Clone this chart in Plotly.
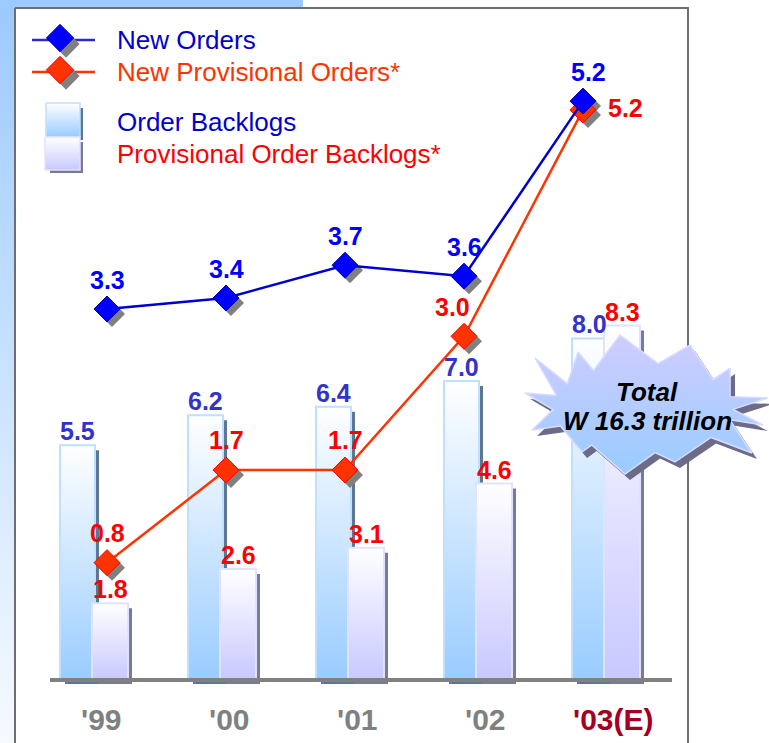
import math
import plotly.graph_objects as go

W, H = 769, 743
FONT = "Liberation Sans, Arial, sans-serif"

# ---- data -------------------------------------------------------------
years = ["'99", "'00", "'01", "'02", "'03(E)"]
new_orders = [3.3, 3.4, 3.7, 3.6, 5.2]
new_provisional_orders = [0.8, 1.7, 1.7, 3.0, 5.2]
order_backlogs = [5.5, 6.2, 6.4, 7.0, 8.0]
provisional_backlogs = [1.8, 2.6, 3.1, 4.6, 8.3]
year_colors = ["#808080", "#808080", "#808080", "#808080", "#a50021"]
legend_labels = ["New Orders", "New Provisional Orders*",
                 "Order Backlogs", "Provisional Order Backlogs*"]
callout_lines = ["Total", "W 16.3 trillion"]

# ---- scales: pixel of value 0 and pixels per unit ----------------------
BAR_X0, BAR_DX = 95, 128
BAR_Y0, BAR_DY = 680, 42.7
LINE_X0, LINE_DX = 107, 119
BLUE_Y0, BLUE_DY = 670, 109.4
RED_Y0, RED_DY = 645, 102.9
SH = 5  # drop shadow offset of the diamond markers (px)


def x_range(x0, dx):
    return [-x0 / dx, (W - x0) / dx]


def y_range(y0, dy):
    return [(y0 - H) / dy, y0 / dy]


fig = go.Figure()


def poly(xs, ys, xa, ya, **kw):
    fig.add_trace(go.Scatter(x=xs, y=ys, mode="lines", fill="toself",
                             hoverinfo="skip", showlegend=False,
                             xaxis=xa, yaxis=ya, **kw))


def rect_px(x0, y0, x1, y1, **kw):
    poly([x0, x1, x1, x0, x0], [y0, y0, y1, y1, y0], "x", "y", **kw)


# ---- background panel and frame (pixel axes) ---------------------------
rect_px(0, 0, 303, H, line_width=0, fillcolor="#9ccaff",
        fillgradient=dict(type="vertical", start=H, stop=0,
                          colorscale=[[0, "#f6faff"], [1, "#9ccaff"]]))
rect_px(15, 8, 688, H + 20, fillcolor="white",
        line=dict(color="#6e6e6e", width=2))

# legend: line series
for y, lc, mc, ec in [(40, "#2a2ad0", "#0000ff", "#0000aa"),
                      (72, "#ff3300", "#ff3300", "#ff0000")]:
    fig.add_trace(go.Scatter(x=[32, 95], y=[y, y], mode="lines",
                             line=dict(color=lc, width=2.5), hoverinfo="skip",
                             showlegend=False, xaxis="x", yaxis="y"))
    fig.add_trace(go.Scatter(x=[66], y=[y + 4], mode="markers",
                             marker=dict(symbol="diamond", size=21, color="#808080"),
                             hoverinfo="skip", showlegend=False, xaxis="x", yaxis="y"))
    fig.add_trace(go.Scatter(x=[60], y=[y - 2], mode="markers",
                             marker=dict(symbol="diamond", size=21, color=mc,
                                         line=dict(color=ec, width=1)),
                             hoverinfo="skip", showlegend=False, xaxis="x", yaxis="y"))

# legend: bar icon
rect_px(50, 108, 83, 140, line_width=0, fillcolor="#5a7896")
rect_px(50, 142, 83, 173, line_width=0, fillcolor="#7a7a98")
rect_px(46, 103, 80, 137, fillcolor="#99ccff", line=dict(color="#bfe0ff", width=1.5),
        fillgradient=dict(type="vertical", start=137, stop=103,
                          colorscale=[[0, "#99ccff"], [1, "#ffffff"]]))
rect_px(45, 137, 80, 170, fillcolor="#c8c8ff", line=dict(color="#e2e2ff", width=1.5),
        fillgradient=dict(type="vertical", start=170, stop=137,
                          colorscale=[[0, "#c8c8ff"], [1, "#ffffff"]]))

# ---- bars (x2 / y2) ------------------------------------------------------
def ux(px):
    return px / BAR_DX


def uy(px):
    return px / BAR_DY


BLUE_BAR = (-35, 0)
PURPLE_BAR = (-3, 33)
bar_styles = [
    (order_backlogs, BLUE_BAR, "#99ccff", "#bfe0ff", "#5a7896"),
    (provisional_backlogs, PURPLE_BAR, "#c8c8ff", "#e2e2ff", "#7a7a98"),
]
for i in range(len(years)):
    for vals, (l, r), base, edge, shade in bar_styles:
        v = vals[i]
        x0, x1 = i + ux(l), i + ux(r)
        sx0, sx1 = x0 + ux(5), x1 + ux(4)
        poly([sx0, sx1, sx1, sx0, sx0], [-uy(4), -uy(4), v - uy(5), v - uy(5), -uy(4)],
             "x2", "y2", line_width=0, fillcolor=shade)
        poly([x0, x1, x1, x0, x0], [0, 0, v, v, 0], "x2", "y2",
             fillcolor=base, line=dict(color=edge, width=2),
             fillgradient=dict(type="vertical", start=0, stop=v,
                               colorscale=[[0, base], [1, "#ffffff"]]))

# ---- starburst callout (drawn over the bars) ---------------------------
STAR_C = (643, 408)
star_tips = [(768, 398), (730, 368), (690, 345), (620, 335), (578, 352),
             (535, 358), (525, 393), (532, 430), (582, 452), (625, 474),
             (675, 462), (752, 453), (763, 425)]
tip_ang = [math.atan2(STAR_C[1] - ty, tx - STAR_C[0]) for tx, ty in star_tips]
star_px = []
n = len(star_tips)
for k in range(n):
    star_px.append(star_tips[k])
    a0, a1 = tip_ang[k], tip_ang[(k + 1) % n]
    if a1 < a0:
        a1 += 2 * math.pi
    am = (a0 + a1) / 2
    star_px.append((STAR_C[0] + 90 * math.cos(am), STAR_C[1] - 45 * math.sin(am)))
star_px.append(star_px[0])


def star_trace(dx, dy, **kw):
    xs = [(px + dx - BAR_X0) / BAR_DX for px, _ in star_px]
    ys = [(BAR_Y0 - py - dy) / BAR_DY for _, py in star_px]
    poly(xs, ys, "x2", "y2", **kw)


star_trace(5, 6, line_width=0, fillcolor="#6c6c88")
star_trace(0, 0, fillcolor="#b0c8ff", line=dict(color="#d8dcff", width=1.5),
           fillgradient=dict(type="vertical",
                             start=(BAR_Y0 - 475) / BAR_DY,
                             stop=(BAR_Y0 - 335) / BAR_DY,
                             colorscale=[[0, "#99ccff"], [1, "#d0ccff"]]))

# ---- lines: shadows (x4) then series (x5) -------------------------------
series = [
    ("y4", "y6", new_provisional_orders, "#ff3300", "#ff3300", "#ff0000"),
    ("y5", "y7", new_orders, "#0000cc", "#0000ff", "#0000aa"),
]
xs_idx = list(range(len(years)))
for ysh, _, vals, _, _, _ in series:
    fig.add_trace(go.Scatter(x=xs_idx, y=vals, mode="markers",
                             marker=dict(symbol="diamond", size=20, color="#808080"),
                             hoverinfo="skip", showlegend=False, xaxis="x4", yaxis=ysh))
for _, ya, vals, lc, mc, ec in series:
    fig.add_trace(go.Scatter(x=xs_idx, y=vals, mode="lines+markers",
                             line=dict(color=lc, width=2.5),
                             marker=dict(symbol="diamond", size=20, color=mc,
                                         line=dict(color=ec, width=1)),
                             hoverinfo="skip", showlegend=False, xaxis="x5", yaxis=ya))

# ---- annotations ---------------------------------------------------------
ann = []


def label(text, x, y, xref, yref, color, size, **kw):
    d = dict(text=text, x=x, y=y, xref=xref, yref=yref, showarrow=False,
             xanchor="center", font=dict(family=FONT, size=size, color=color))
    d.update(kw)
    ann.append(d)


def bold(size, color, **extra):
    return dict(family=FONT, size=size, color=color, weight="bold", **extra)


# legend text
for (txt, y, col) in zip(legend_labels, [40, 72, 122, 154],
                         ["#0000cc", "#ff3300", "#0000cc", "#ff0000"]):
    label(txt, 115, y, "x", "y", col, 26, xanchor="left", yanchor="middle")

# bar value labels
for i in range(len(years)):
    label(f"{order_backlogs[i]:.1f}", i + ux(sum(BLUE_BAR) / 2), order_backlogs[i],
          "x2", "y2", "#3333cc", 25, yanchor="bottom", yshift=-2,
          font=bold(25, "#3333cc"))
    label(f"{provisional_backlogs[i]:.1f}", i + ux(sum(PURPLE_BAR) / 2), provisional_backlogs[i],
          "x2", "y2", "#ff0000", 25, yanchor="bottom", yshift=-2,
          font=bold(25, "#ff0000"))

# line value labels
for i in range(len(years)):
    label(f"{new_orders[i]:.1f}", i, new_orders[i], "x5", "y7", "#0000ff", 25,
          yanchor="middle", yshift=29, xshift=5 if i == 4 else 0,
          font=bold(25, "#0000ff"))
    if i == 4:
        kw = dict(xshift=42, yshift=2)
    elif i == 3:
        kw = dict(xshift=-12, yshift=29)
    else:
        kw = dict(yshift=30)
    label(f"{new_provisional_orders[i]:.1f}", i, new_provisional_orders[i], "x5", "y6",
          "#ff0000", 25, yanchor="middle", font=bold(25, "#ff0000"), **kw)

# category labels
for i, (yr, col) in enumerate(zip(years, year_colors)):
    label(yr, i, 0, "x2", "y2", col, 30, yanchor="middle", yshift=-39, xshift=6,
          font=bold(30, col))

# callout text
for txt, py in zip(callout_lines, [392, 421]):
    label(txt, 647 / W, 1 - py / H, "paper", "paper", "black", 26, yanchor="middle",
          font=bold(26, "black", style="italic"))

# ---- layout ---------------------------------------------------------------
hidden = dict(visible=False, showgrid=False, zeroline=False, fixedrange=True)
fig.update_layout(
    width=W, height=H,
    margin=dict(l=0, r=0, t=0, b=0),
    paper_bgcolor="white", plot_bgcolor="rgba(0,0,0,0)",
    showlegend=False,
    annotations=ann,
    shapes=[dict(type="line", xref="x2", yref="y2",
                 x0=(50 - BAR_X0) / BAR_DX, x1=(672 - BAR_X0) / BAR_DX, y0=0, y1=0,
                 line=dict(color="#808080", width=4), layer="above")],
    xaxis=dict(range=[0, W], domain=[0, 1], **hidden),
    yaxis=dict(range=[H, 0], domain=[0, 1], **hidden),
    xaxis2=dict(range=x_range(BAR_X0, BAR_DX), overlaying="x", **hidden),
    yaxis2=dict(range=y_range(BAR_Y0, BAR_DY), overlaying="y", **hidden),
    xaxis4=dict(range=x_range(LINE_X0 + SH, LINE_DX), overlaying="x", **hidden),
    yaxis4=dict(range=y_range(RED_Y0 + SH, RED_DY), overlaying="y", **hidden),
    yaxis5=dict(range=y_range(BLUE_Y0 + SH, BLUE_DY), overlaying="y", **hidden),
    xaxis5=dict(range=x_range(LINE_X0, LINE_DX), overlaying="x", **hidden),
    yaxis6=dict(range=y_range(RED_Y0, RED_DY), overlaying="y", **hidden),
    yaxis7=dict(range=y_range(BLUE_Y0, BLUE_DY), overlaying="y", **hidden),
)

fig.write_html("out.html")
